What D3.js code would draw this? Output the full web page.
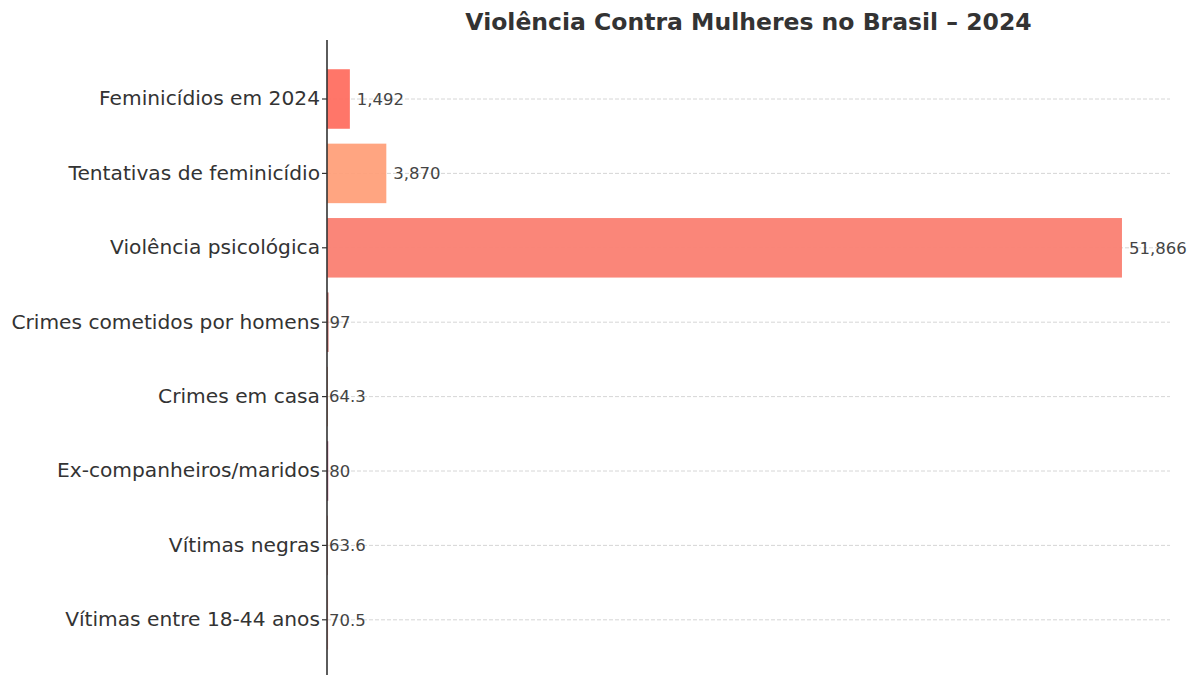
<!DOCTYPE html>
<meta charset="utf-8" />
<style>
  body { margin: 0; background: #fff; }
  svg { display: block; font-family: "DejaVu Sans", sans-serif; }
  .title { font-size: 23.5px; font-weight: bold; fill: #333; }
  .cat { font-size: 20.2px; fill: #333; }
  .val { font-size: 16.5px; fill: #444; }
</style>
<body>
  <script src="https://d3js.org/d3.v7.min.js"></script>
  <script>
    // data
    var categories = [
      "Feminicídios em 2024",
      "Tentativas de feminicídio",
      "Violência psicológica",
      "Crimes cometidos por homens",
      "Crimes em casa",
      "Ex-companheiros/maridos",
      "Vítimas negras",
      "Vítimas entre 18-44 anos"
    ];
    var values = [1492, 3870, 51866, 97, 64.3, 80, 63.6, 70.5];
    var labels = ["1,492", "3,870", "51,866", "97", "64.3", "80", "63.6", "70.5"];
    var colors = ["#FF6F61", "#FFA07A", "#FA8072", "#C0504D", "#E9967A", "#A0406A", "#D98880", "#F1948A"];

    var width = 1200,
      height = 675;
    var margin = { left: 327, right: 30, top: 40 };

    var svg = d3
      .select("body")
      .append("svg")
      .attr("width", width)
      .attr("height", height);

    var x = d3.scaleLinear().domain([0, 55000]).range([margin.left, width - margin.right]);

    // matplotlib-ish band: step 74.4, first centre at 99
    var step = 74.4;
    var y = d3
      .scaleBand()
      .domain(categories)
      .range([99 - step / 2, 99 - step / 2 + step * categories.length])
      .paddingInner(0.2)
      .paddingOuter(0.1);

    // dashed grid at category centres
    svg
      .selectAll(".grid")
      .data(categories)
      .enter()
      .append("line")
      .attr("class", "grid")
      .attr("x1", x(0))
      .attr("x2", x.range()[1])
      .attr("y1", d => y(d) + y.bandwidth() / 2)
      .attr("y2", d => y(d) + y.bandwidth() / 2)
      .style("stroke", "#ccc")
      .style("stroke-width", 0.8)
      .style("stroke-dasharray", "4,2");

    svg
      .selectAll(".bar")
      .data(values)
      .enter()
      .append("rect")
      .attr("class", "bar")
      .attr("x", x(0))
      .attr("y", (d, i) => y(categories[i]))
      .attr("width", d => x(d) - x(0))
      .attr("height", y.bandwidth())
      .style("fill", (d, i) => colors[i])
      .style("opacity", 0.95);

    svg
      .selectAll(".val")
      .data(values)
      .enter()
      .append("text")
      .attr("class", "val")
      .attr("x", d => x(d) + (d > 500 ? 7 : 1))
      .attr("y", (d, i) => y(categories[i]) + y.bandwidth() / 2)
      .attr("dy", "0.35em")
      .text((d, i) => labels[i]);

    // left axis
    var yAxis = d3.axisLeft(y).tickSize(5).tickPadding(2);
    var ag = svg
      .append("g")
      .attr("transform", "translate(" + x(0) + ",0)")
      .call(yAxis)
      .attr("font-family", null)
      .attr("font-size", null);
    ag.select(".domain")
      .attr("d", "M0," + margin.top + "V" + (height + 10))
      .style("stroke", "#333")
      .style("stroke-width", 1.6);
    ag.selectAll(".tick line").style("stroke", "#333").style("stroke-width", 1.2);
    ag.selectAll(".tick text").attr("class", "cat").attr("fill", null);

    svg
      .append("text")
      .attr("class", "title")
      .attr("x", (x.range()[0] + x.range()[1]) / 2)
      .attr("y", 30)
      .attr("text-anchor", "middle")
      .text("Violência Contra Mulheres no Brasil – 2024");
  </script>
</body>
